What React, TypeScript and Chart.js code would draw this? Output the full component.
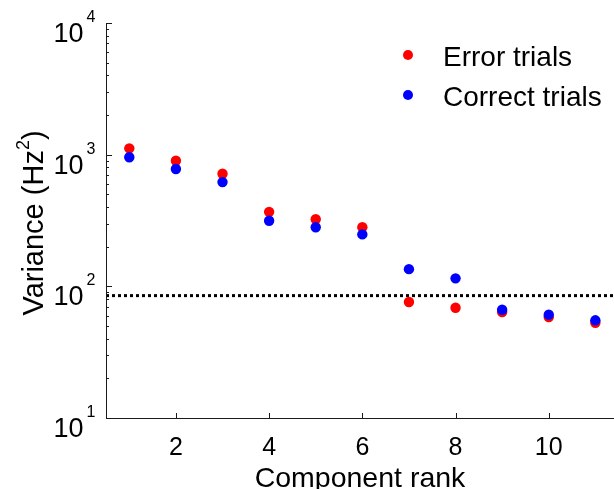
import React, { useEffect, useRef } from 'react';
import { Chart, registerables } from 'chart.js';

Chart.register(...registerables);

// Variance of each principal component, by rank
const ranks = [1, 2, 3, 4, 5, 6, 7, 8, 9, 10, 11];
const errorTrials = [1117, 899, 716, 368, 323, 281, 76, 68.8, 63.8, 58.5, 52.9];
const correctTrials = [955, 778, 619, 315, 281, 248, 135, 115, 66.4, 60.9, 55.2];
const thresholdLevel = 85;

const xTickValues = [2, 4, 6, 8, 10];
const yDecadeExponents = [1, 2, 3, 4];
const seriesNames = ['Error trials', 'Correct trials'];
const seriesColors = ['#ff0000', '#0000ff'];
const xTitle = 'Component rank';
const yTitleMain = 'Variance (Hz';
const yTitleSup = '2';
const yTitleEnd = ')';

const X_MIN = 0.5;
const X_MAX = 11.4;
const FONT = "'Liberation Sans', Arial, Helvetica, sans-serif";

const decorPlugin = {
  id: 'axisDecor',
  afterDraw(chart: any) {
    const ctx: CanvasRenderingContext2D = chart.ctx;
    const xs = chart.scales.x;
    const ys = chart.scales.y;
    const { left, right, top, bottom } = chart.chartArea;

    ctx.save();
    // axis lines
    ctx.strokeStyle = '#1a1a1a';
    ctx.lineWidth = 1;
    ctx.beginPath();
    ctx.moveTo(left + 0.5, top);
    ctx.lineTo(left + 0.5, bottom + 0.5);
    ctx.lineTo(right, bottom + 0.5);
    ctx.stroke();

    // x ticks (inward)
    ctx.beginPath();
    xTickValues.forEach((v) => {
      const px = Math.round(xs.getPixelForValue(v)) + 0.5;
      ctx.moveTo(px, bottom);
      ctx.lineTo(px, bottom - 5);
    });
    // y ticks: major at decades, minor in between
    yDecadeExponents.forEach((e) => {
      const py = Math.round(ys.getPixelForValue(Math.pow(10, e))) + 0.5;
      ctx.moveTo(left, py);
      ctx.lineTo(left + 6, py);
      if (e < yDecadeExponents[yDecadeExponents.length - 1]) {
        for (let m = 2; m <= 9; m++) {
          const pm = Math.round(ys.getPixelForValue(m * Math.pow(10, e))) + 0.5;
          ctx.moveTo(left, pm);
          ctx.lineTo(left + 3, pm);
        }
      }
    });
    ctx.stroke();

    ctx.fillStyle = '#000';
    ctx.textBaseline = 'alphabetic';

    // x tick labels
    ctx.font = `25px ${FONT}`;
    ctx.textAlign = 'center';
    xTickValues.forEach((v) => {
      ctx.fillText(String(v), xs.getPixelForValue(v), 455);
    });

    // y tick labels as powers of ten
    const labelRight = 95.5;
    yDecadeExponents.forEach((e) => {
      const py = ys.getPixelForValue(Math.pow(10, e));
      ctx.font = `16px ${FONT}`;
      const expW = ctx.measureText(String(e)).width;
      ctx.textAlign = 'left';
      ctx.fillText(String(e), labelRight - expW, py - 1);
      ctx.font = `27px ${FONT}`;
      const baseW = ctx.measureText('10').width;
      ctx.fillText('10', labelRight - expW - 3 - baseW, py + 19);
    });

    // x axis title
    ctx.font = `28.5px ${FONT}`;
    ctx.textAlign = 'center';
    ctx.fillText(xTitle, (left + right) / 2, 487);

    // y axis title with superscript
    ctx.save();
    ctx.translate(42.5, 223);
    ctx.rotate(-Math.PI / 2);
    ctx.textAlign = 'left';
    ctx.font = `29px ${FONT}`;
    const w1 = ctx.measureText(yTitleMain).width;
    const w3 = ctx.measureText(yTitleEnd).width;
    ctx.font = `18px ${FONT}`;
    const w2 = ctx.measureText(yTitleSup).width;
    const total = w1 + w2 + w3;
    let x0 = -total / 2;
    ctx.font = `29px ${FONT}`;
    ctx.fillText(yTitleMain, x0, 0);
    x0 += w1;
    ctx.font = `18px ${FONT}`;
    ctx.fillText(yTitleSup, x0, -14);
    x0 += w2;
    ctx.font = `29px ${FONT}`;
    ctx.fillText(yTitleEnd, x0, 0);
    ctx.restore();

    // legend
    const legendBaselines = [66, 106];
    seriesNames.forEach((name, i) => {
      ctx.fillStyle = seriesColors[i];
      ctx.beginPath();
      ctx.arc(408, legendBaselines[i] - 11, 5, 0, Math.PI * 2);
      ctx.fill();
      ctx.fillStyle = '#000';
      ctx.font = `28px ${FONT}`;
      ctx.textAlign = 'left';
      ctx.fillText(name, 443, legendBaselines[i]);
    });
    ctx.restore();
  },
};

export default function App() {
  const canvasRef = useRef<HTMLCanvasElement | null>(null);

  useEffect(() => {
    document.body.style.margin = '0';
    document.body.style.overflow = 'hidden';
    const canvas = canvasRef.current;
    if (!canvas) return;

    const toPoints = (vals: number[]) => ranks.map((r, i) => ({ x: r, y: vals[i] }));

    const chart = new Chart(canvas, {
      type: 'scatter',
      data: {
        datasets: [
          {
            label: seriesNames[0],
            data: toPoints(errorTrials),
            backgroundColor: seriesColors[0],
            borderWidth: 0,
            pointRadius: 5.2,
            order: 1,
          },
          {
            label: seriesNames[1],
            data: toPoints(correctTrials),
            backgroundColor: seriesColors[1],
            borderWidth: 0,
            pointRadius: 5.2,
            order: 0,
          },
          {
            type: 'line',
            label: 'threshold',
            data: [
              { x: X_MIN, y: thresholdLevel },
              { x: X_MAX, y: thresholdLevel },
            ],
            borderColor: '#000',
            borderWidth: 3,
            borderDash: [3, 3],
            pointRadius: 0,
            showLine: true,
            order: 2,
          } as any,
        ],
      },
      options: {
        responsive: false,
        animation: false,
        events: [],
        layout: { autoPadding: false, padding: { left: 0, right: 0, top: 23, bottom: 0 } },
        plugins: {
          legend: { display: false },
          tooltip: { enabled: false },
        },
        scales: {
          x: {
            type: 'linear',
            min: X_MIN,
            max: X_MAX,
            grid: { display: false },
            border: { display: false },
            ticks: { display: false },
            afterFit: (s: any) => {
              s.height = 71;
            },
          },
          y: {
            type: 'logarithmic',
            min: 10,
            max: 10000,
            grid: { display: false },
            border: { display: false },
            ticks: { display: false },
            afterFit: (s: any) => {
              s.width = 106;
            },
          },
        },
      },
      plugins: [decorPlugin],
    });

    return () => chart.destroy();
  }, []);

  return (
    <div style={{ width: 614, height: 489, background: '#fff' }}>
      <canvas ref={canvasRef} width={614} height={489} style={{ display: 'block' }} />
    </div>
  );
}
